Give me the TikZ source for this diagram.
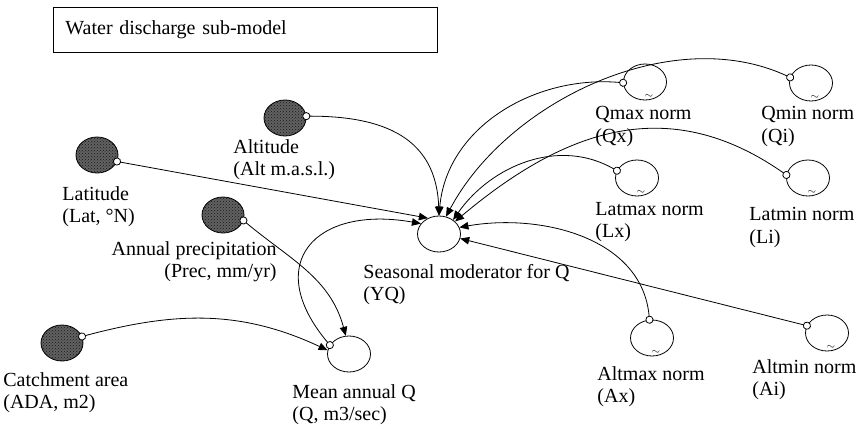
\documentclass[tikz,border=0pt]{standalone}
\usepackage{fontspec}
\setmainfont{Liberation Serif}
\usetikzlibrary{arrows.meta,patterns,shapes.geometric}

\begin{document}
\begin{tikzpicture}[
    x=1pt,
    y=1pt,
    line width=.8pt,
    inputvar/.style={
      ellipse,
      draw,
      inner sep=0,
      minimum width=42,
      minimum height=36,
      preaction={fill=black!62},
      pattern=crosshatch dots,
      pattern color=black!90,
    },
    auxvar/.style={
      ellipse,
      draw,
      inner sep=0,
      minimum width=43,
      minimum height=36,
    },
    varlabel/.style={
      anchor=north west,
      inner sep=0,
      align=left,
      font=\fontsize{20}{22.5}\selectfont,
    },
    tilde/.style={
      inner sep=0,
      font=\fontsize{11}{11}\selectfont,
    },
    titlebox/.style={
      draw,
      anchor=north west,
      minimum width=384,
      minimum height=45,
      text width=360,
      inner xsep=12,
      align=left,
      font=\fontsize{20}{22}\selectfont,
    },
    link/.style={
      {Circle[length=8pt,width=8pt,fill=white]}-{Triangle[length=9pt,width=7.5pt]},
      shorten <=-4pt,
    },
  ]
    \newcommand\inputvar[4]{%
      \node[inputvar] (#1) at (#2) {};
      \node[varlabel] (#1-lbl) at (#3) {#4};
    }
    \newcommand\normvar[4]{%
      \node[auxvar] (#1) at (#2) {};
      \node[tilde] (#1-t) at ([yshift=3.5pt]#1.-78) {$\sim$};
      \node[varlabel] (#1-lbl) at (#3) {#4};
    }

    \useasboundingbox (0,0) rectangle (864,-428);

    \node[titlebox] (title) at (53,-7) {Water discharge sub-model};

    % inputs
    \inputvar{alt}{285,-118}{233,-139}{Altitude\\(Alt m.a.s.l.)}
    \inputvar{lat}{97,-155}{62,-186}{Latitude\\(Lat, °N)}
    \node[inputvar] (prec) at (223,-215) {};
    \node[varlabel,anchor=north east,align=right] (prec-lbl) at (277,-241)
      {Annual precipitation\\(Prec, mm/yr)};
    \inputvar{ada}{62,-343}{3,-372}{Catchment area\\(ADA, m2)}

    % auxiliaries
    \node[auxvar] (yq) at (439,-234) {};
    \node[varlabel] (yq-lbl) at (363,-264) {Seasonal moderator for Q\\(YQ)};
    \node[auxvar] (q) at (349,-354) {};
    \node[varlabel] (q-lbl) at (292,-384) {Mean annual Q\\(Q, m3/sec)};

    % normalised graphs
    \normvar{qx}{645,-82}{595,-106}{Qmax norm\\(Qx)}
    \normvar{qi}{811,-83}{761,-106}{Qmin norm\\(Qi)}
    \normvar{lx}{637,-178}{595,-202}{Latmax norm\\(Lx)}
    \normvar{li}{808,-178}{749,-207}{Latmin norm\\(Li)}
    \normvar{ax}{652,-338}{597,-366}{Altmax norm\\(Ax)}
    \normvar{ai}{827,-333}{752,-359}{Altmin norm\\(Ai)}

    % links
    \draw[link] (alt.5) to[out=0,in=92,looseness=1.2] (yq.north);
    \draw[link] (lat.-18) -- (yq.125);
    \draw[link] (qx.182) to[out=175,in=85] (yq.north);
    \draw[link] (qi.165) to[out=155,in=62,looseness=.9] (yq.68);
    \draw[link] (lx.160) to[out=150,in=55] (yq.45);
    \draw[link] (li.172) to[out=145,in=40,looseness=1.1] (yq.38);
    \draw[link] (ax.98) to[out=95,in=10] (yq.18);
    \draw[link] (ai.160) -- (yq.-12);
    \draw[link] (q.155) to[out=130,in=170,looseness=1.8] (yq.150);
    \draw[link] (prec.-15) to[out=-40,in=105] (q.100);
    \draw[link] (ada.18) to[out=15,in=155] (q.170);
  \end{tikzpicture}
\end{document}
